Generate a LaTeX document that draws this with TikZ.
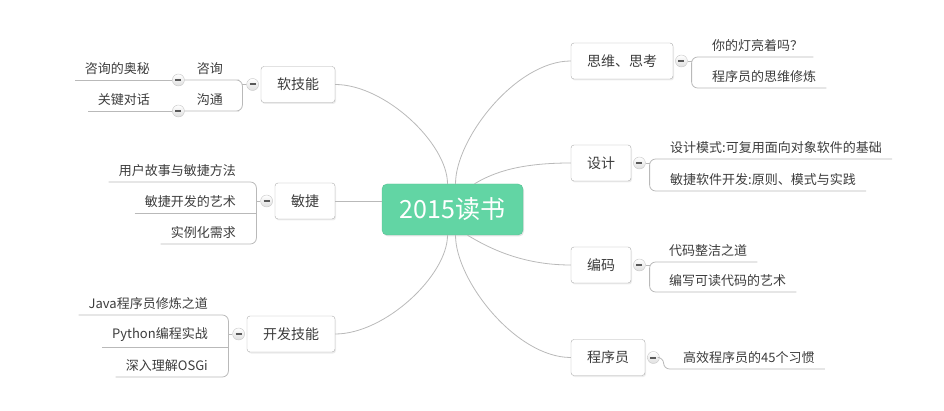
\documentclass[tikz,border=0pt]{standalone}
\usepackage{fontspec}
\setmainfont{Noto Sans CJK SC}
\usetikzlibrary{positioning, shadows}

\definecolor{rootgreen}{RGB}{98,213,164}
\definecolor{linegray}{RGB}{185,185,185}
\definecolor{boxgray}{RGB}{172,172,172}
\definecolor{txtgray}{RGB}{60,60,60}

\begin{document}
\begin{tikzpicture}[x=1pt, y=-1pt,
  branch/.style={draw=linegray, line width=0.8pt},
  link/.style={draw=linegray, line width=0.8pt, rounded corners=6pt},
  root/.style={rectangle, rounded corners=5pt, fill=rootgreen, draw=rootgreen!90!black,
    text=white, font=\fontsize{25}{28}\selectfont, minimum width=141pt, minimum height=51pt,
    drop shadow={shadow xshift=1pt, shadow yshift=-1.5pt, opacity=0.2}},
  topic/.style={rectangle, rounded corners=3pt, draw=boxgray, fill=white, text=txtgray,
    font=\fontsize{14}{16}\selectfont, inner xsep=16pt, minimum height=36pt,
    drop shadow={shadow xshift=1pt, shadow yshift=-1.5pt, opacity=0.15}},
  leaf/.style={text=txtgray, font=\fontsize{13}{15}\selectfont, inner xsep=10pt, inner ysep=5pt},
  minus/.style={circle, draw=gray!45, top color=white, bottom color=gray!25,
    minimum size=12pt, inner sep=0pt,
    path picture={\draw[line width=2pt, gray!70!black]
      ([xshift=-3pt]path picture bounding box.center) -- ([xshift=3pt]path picture bounding box.center);}}]

  \useasboundingbox (0,0) rectangle (944,411);

  \node[root] (root) at (452.5,209.5) {2015读书};

  % left
  \node[topic] (soft) at (298,84.5) {软技能};
  \node[topic] (agile) at (305,201) {敏捷};
  \node[topic] (dev) at (291,334) {开发技能};
  % right
  \node[topic] (think) at (622,61) {思维、思考};
  \node[topic] (design) at (601,163) {设计};
  \node[topic] (code) at (601,265) {编码};
  \node[topic] (prog) at (608,357.5) {程序员};

  \node[minus, left=2pt of soft] (ms) {};
  \node[minus, left=2pt of agile] (ma) {};
  \node[minus, left=2pt of dev] (mv) {};
  \node[minus, right=2pt of think] (mt) {};
  \node[minus, right=2pt of design] (md) {};
  \node[minus, right=2pt of code] (mc) {};
  \node[minus, right=2pt of prog] (mp) {};

  \coordinate[left=4pt of ms] (bs);
  \coordinate[left=4pt of ma] (ba);
  \coordinate[left=4pt of mv] (bv);
  \coordinate[right=4pt of mt] (bt);
  \coordinate[right=4pt of md] (bd);
  \coordinate[right=4pt of mc] (bc);
  \coordinate[right=4pt of mp] (bp);

  % leaves
  \node[leaf, anchor=south east] (s1) at (233,80) {咨询};
  \node[leaf, anchor=south east] (s2) at (233,111) {沟通};
  \node[minus, left=2pt of s1.south west] (ms1) {};
  \node[minus, left=2pt of s2.south west] (ms2) {};
  \node[leaf, anchor=south east] (g1) at (160,80) {咨询的奥秘};
  \node[leaf, anchor=south east] (g2) at (160,111) {关键对话};

  \node[leaf, anchor=south east] (a1) at (246,182) {用户故事与敏捷方法};
  \node[leaf, anchor=south east] (a2) at (246,213) {敏捷开发的艺术};
  \node[leaf, anchor=south east] (a3) at (246,244) {实例化需求};

  \node[leaf, anchor=south east] (v1) at (218,315) {Java程序员修炼之道};
  \node[leaf, anchor=south east] (v2) at (218,347) {Python编程实战};
  \node[leaf, anchor=south east] (v3) at (218,377) {深入理解OSGi};

  \node[leaf, anchor=south west] (t1) at (702,57) {你的灯亮着吗？};
  \node[leaf, anchor=south west] (t2) at (702,88) {程序员的思维修炼};

  \node[leaf, anchor=south west] (d1) at (660,159) {设计模式:可复用面向对象软件的基础};
  \node[leaf, anchor=south west] (d2) at (660,191) {敏捷软件开发:原则、模式与实践};

  \node[leaf, anchor=south west] (c1) at (659,262) {代码整洁之道};
  \node[leaf, anchor=south west] (c2) at (659,292) {编写可读代码的艺术};

  \node[leaf, anchor=south west] (p1) at (673,369) {高效程序员的45个习惯};

  % root to topics
  \draw[branch] ([xshift=-5pt]root.north) .. controls +(0,-40) and +(50,0) .. (soft.east);
  \draw[branch] (agile.east) -- (agile.east -| root.west);
  \draw[branch] ([xshift=-5pt]root.south) .. controls +(0,40) and +(50,0) .. (dev.east);
  \draw[branch] ([xshift=3pt]root.north) .. controls +(0,-45) and +(-55,0) .. (think.west);
  \draw[branch] ([xshift=22pt]root.north) .. controls +(20,-12) and +(-50,0) .. (design.west);
  \draw[branch] ([xshift=15pt]root.south) .. controls +(20,12) and +(-50,0) .. (code.west);
  \draw[branch] ([xshift=3pt]root.south) .. controls +(0,45) and +(-55,0) .. (prog.west);

  % topics to leaves
  \draw[link] (ms) -- (bs);
  \draw[link] (ms1.east) -- (s1.south east) -- (s1.south east -| bs) -- (s2.south east -| bs)
    -- (s2.south east) -- (ms2.east);
  \draw[link] (ms1.west) -- (g1.south west);
  \draw[link] (ms2.west) -- (g2.south west);

  \draw[link] (ma) -- (ba);
  \draw[link] (a1.south west) -- (a1.south west -| ba) -- (a3.south west -| ba) -- (a3.south west);
  \draw[link] (a2.south west) -- (a2.south west -| ba);

  \draw[link] (mv) -- (bv);
  \draw[link] (v1.south west) -- (v1.south west -| bv) -- (v3.south west -| bv) -- (v3.south west);
  \draw[link] (v2.south west) -- (v2.south west -| bv);

  \draw[link] (mt) -- (bt);
  \draw[link] (t1.south east) -- (t1.south west -| bt) -- (t2.south west -| bt) -- (t2.south east);

  \draw[link] (md) -- (bd);
  \draw[link] (d1.south east) -- (d1.south west -| bd) -- (d2.south west -| bd) -- (d2.south east);

  \draw[link] (mc) -- (bc);
  \draw[link] (c1.south east) -- (c1.south west -| bc) -- (c2.south west -| bc) -- (c2.south east);

  \draw[link] (mp) -- (bp) -- (p1.south west -| bp) -- (p1.south east);
\end{tikzpicture}
\end{document}
